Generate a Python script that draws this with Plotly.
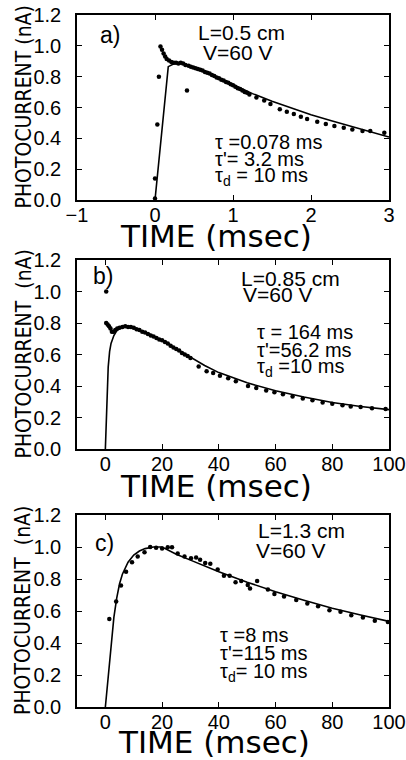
import plotly.graph_objects as go

W, H = 406, 760

# ---------------- data ----------------
# panel a) L=0.5 cm
a_fit_t = [0, 0.17, 0.25, 0.35, 0.5, 0.75, 1.0, 1.25, 1.5, 1.75, 2.0, 2.25, 2.5, 2.75, 3.0]
a_fit_v = [0, 0.865, 0.885, 0.89, 0.86, 0.81, 0.75, 0.69, 0.64, 0.595, 0.553, 0.515, 0.478, 0.442, 0.408]
a_pts_t = [0.00, 0.00, 0.03, 0.05, 0.07, 0.09, 0.11, 0.13, 0.15, 0.18, 0.21, 0.24, 0.27, 0.30, 0.33,
           0.36, 0.39, 0.41, 0.43, 0.46, 0.49, 0.52, 0.55, 0.58, 0.61, 0.64, 0.67, 0.70, 0.73, 0.76,
           0.79, 0.82, 0.85, 0.88, 0.91, 0.94, 0.97, 1.00, 1.03, 1.06, 1.09, 1.12, 1.15, 1.18, 1.21,
           1.30, 1.40, 1.48, 1.60, 1.69, 1.78, 1.87, 1.95, 2.08, 2.19, 2.30, 2.42, 2.53, 2.66, 2.76, 2.94]
a_pts_v = [0.01, 0.14, 0.49, 0.80, 0.995, 0.975, 0.95, 0.93, 0.915, 0.905, 0.895, 0.89, 0.89, 0.885, 0.89,
           0.885, 0.875, 0.71, 0.87, 0.865, 0.86, 0.855, 0.85, 0.845, 0.84, 0.83, 0.825, 0.82, 0.81, 0.805,
           0.795, 0.79, 0.78, 0.775, 0.765, 0.76, 0.75, 0.745, 0.735, 0.725, 0.72, 0.71, 0.70, 0.695, 0.685,
           0.665, 0.645, 0.623, 0.588, 0.573, 0.558, 0.54, 0.525, 0.508, 0.493, 0.48, 0.469, 0.458, 0.448, 0.448, 0.437]

# panel b) L=0.85 cm
b_fit_t = [0, 0.5, 1, 1.5, 2, 3, 4, 5, 7, 10, 15, 20, 25, 30, 35, 40, 50, 60, 70, 80, 90, 100]
b_fit_v = [0, 0.32, 0.52, 0.62, 0.67, 0.72, 0.75, 0.765, 0.78, 0.77, 0.735, 0.69, 0.635, 0.58, 0.53,
           0.485, 0.42, 0.37, 0.33, 0.295, 0.27, 0.25]
b_pts_t = [0.3, 0.3, 0.8, 1.3, 1.8, 2.3, 2.8, 3.5, 4.2, 5, 6, 7, 8, 9, 10, 11, 12, 13, 14, 15, 16, 17,
           18, 19, 20, 21, 22, 23, 24, 25, 26, 27, 28, 29, 30, 32.9, 35.7, 38, 40.4, 43.3, 46, 50.3,
           53.2, 56.7, 59.6, 62.6, 66, 69.6, 73, 76.6, 80, 83.6, 86.5, 90, 94, 98.8]
b_pts_v = [1.0, 0.80, 0.79, 0.78, 0.765, 0.745, 0.745, 0.755, 0.765, 0.77, 0.775, 0.78, 0.775, 0.775,
           0.77, 0.76, 0.755, 0.745, 0.74, 0.73, 0.72, 0.715, 0.705, 0.695, 0.69, 0.68, 0.67, 0.655,
           0.645, 0.635, 0.625, 0.61, 0.60, 0.59, 0.577, 0.524, 0.493, 0.482, 0.465, 0.45, 0.43, 0.40,
           0.387, 0.372, 0.36, 0.347, 0.334, 0.32, 0.31, 0.296, 0.288, 0.277, 0.27, 0.266, 0.258, 0.254]

# panel c) L=1.3 cm
c_fit_t = [0, 1, 2, 3, 4, 5, 6, 7, 8, 10, 12, 14, 17, 20, 25, 30, 40, 50, 60, 70, 80, 90, 100]
c_fit_v = [0, 0.2, 0.4, 0.56, 0.68, 0.77, 0.83, 0.87, 0.905, 0.95, 0.975, 0.99, 1.0, 1.0, 0.955,
           0.918, 0.845, 0.78, 0.72, 0.667, 0.617, 0.575, 0.535]
c_pts_t = [1.4, 3.8, 5.5, 7.3, 9.4, 11.4, 13.8, 15.8, 17.9, 20, 22, 23.5, 25.5, 27.9, 30.2, 32, 33.4,
           35.2, 37, 39.6, 41.8, 43.8, 45.9, 47.9, 50.2, 51, 53.5, 57.3, 59.6, 63, 67.3, 71.2, 75, 79,
           82.9, 86.7, 90.8, 95, 99.6]
c_pts_v = [0.55, 0.66, 0.76, 0.845, 0.905, 0.94, 0.967, 1.0, 0.996, 0.99, 0.998, 0.998, 0.96, 0.94,
           0.93, 0.935, 0.92, 0.90, 0.895, 0.86, 0.82, 0.82, 0.78, 0.787, 0.762, 0.74, 0.787, 0.735,
           0.706, 0.69, 0.668, 0.647, 0.63, 0.605, 0.595, 0.574, 0.56, 0.539, 0.532]

y_ticks = [0.0, 0.2, 0.4, 0.6, 0.8, 1.0, 1.2]
a_xticks = [-1, 0, 1, 2, 3]
bc_xticks = [0, 20, 40, 60, 80, 100]

panels = [
    dict(fit=(a_fit_t, a_fit_v), pts=(a_pts_t, a_pts_v), xr=[-1, 3], xt=a_xticks,
         label="a)", L="L=0.5 cm", V="V=60 V",
         taus=["τ =0.078 ms", "τ'= 3.2 ms", "τ<sub>d</sub> = 10 ms"],
         ytitle="PHOTOCURRENT (nA)"),
    dict(fit=(b_fit_t, b_fit_v), pts=(b_pts_t, b_pts_v), xr=[-10, 100], xt=bc_xticks,
         label="b)", L="L=0.85 cm", V="V=60 V",
         taus=["τ = 164 ms", "τ'=56.2 ms", "τ<sub>d</sub> =10 ms"],
         ytitle="PHOTOCURRENT  (nA)"),
    dict(fit=(c_fit_t, c_fit_v), pts=(c_pts_t, c_pts_v), xr=[-10, 100], xt=bc_xticks,
         label="c)", L="L=1.3 cm", V="V=60 V",
         taus=["τ =8 ms", "τ'=115 ms", "τ<sub>d</sub>= 10 ms"],
         ytitle="PHOTOCURRENT  (nA)"),
]

# ---------------- layout geometry (pixels) ----------------
X0, X1 = 77, 389
boxes = [(15, 200), (260, 449), (515, 707)]   # top, bottom in px
ann_pos = [
    dict(lab=(110, 35), L=(241, 33), V=(238, 53), tau_x=213, tau_y=[142, 159, 176], xt=236, xtitle_x=216),
    dict(lab=(103, 276), L=(290, 278), V=(277, 295), tau_x=255, tau_y=[332, 350, 367], xt=486, xtitle_x=216),
    dict(lab=(104, 543), L=(301, 530), V=(290, 550), tau_x=218, tau_y=[635, 653, 672], xt=742, xtitle_x=214),
]

def px(x):
    return x / W

def py(y):
    return 1 - y / H

TICKFONT = "Liberation Sans"
TXT = "Liberation Sans"
TITLE = "DejaVu Sans"
NARROW = "Liberation Sans Narrow, DejaVu Sans Condensed, Roboto Condensed, Liberation Sans"

fig = go.Figure()
annotations = []

def note(x, y, text, size, family=TXT, xanchor="center", **kw):
    annotations.append(dict(x=px(x), y=py(y), text=text, showarrow=False, xref="paper", yref="paper",
                            xanchor=xanchor, yanchor="middle",
                            font=dict(size=size, family=family, color="black"), **kw))

for i, p in enumerate(panels):
    n = "" if i == 0 else str(i + 1)
    xa, ya = "x" + n, "y" + n
    fig.add_trace(go.Scatter(x=p["pts"][0], y=p["pts"][1], mode="markers", xaxis=xa, yaxis=ya,
                             marker=dict(color="black", size=4.5), showlegend=False, cliponaxis=False))
    fig.add_trace(go.Scatter(x=p["fit"][0], y=p["fit"][1], mode="lines", xaxis=xa, yaxis=ya,
                             line=dict(color="black", width=1.6), showlegend=False))
    top, bot = boxes[i]
    axcommon = dict(showline=True, linecolor="black", linewidth=1.5, mirror="ticks",
                    ticks="inside", ticklen=5, tickwidth=1.2, tickcolor="black",
                    showgrid=False, zeroline=False, automargin=False, ticklabeloverflow="allow",
                    tickfont=dict(family=TICKFONT, size=20, color="black"))
    fig.update_layout(**{
        "xaxis" + n: dict(domain=[px(X0), px(X1)], range=p["xr"], tickvals=p["xt"],
                          anchor=ya, ticklabelstandoff=-4, **axcommon),
        "yaxis" + n: dict(domain=[py(bot), py(top)], range=[0, 1.2], tickvals=y_ticks,
                          tickformat=".1f", anchor=xa, ticklabelstandoff=10, **axcommon),
    })
    ap = ann_pos[i]
    note(ap["lab"][0], ap["lab"][1], p["label"], 23)
    note(ap["L"][0], ap["L"][1], p["L"], 21)
    note(ap["V"][0], ap["V"][1], p["V"], 21)
    for t, yy in zip(p["taus"], ap["tau_y"]):
        note(ap["tau_x"], yy, t, 20, xanchor="left")
    note(23, (top + bot) / 2, p["ytitle"], 21, family=NARROW, textangle=-90)
    note(ap["xtitle_x"], ap["xt"], "TIME (msec)", 31, family=TITLE)

fig.update_layout(width=W, height=H, margin=dict(l=0, r=0, t=0, b=0, pad=0, autoexpand=False),
                  paper_bgcolor="white", plot_bgcolor="white", annotations=annotations)
fig.write_html("out.html", config={"displayModeBar": False},
               post_script="document.body.style.margin='0';document.body.style.overflow='hidden';")
